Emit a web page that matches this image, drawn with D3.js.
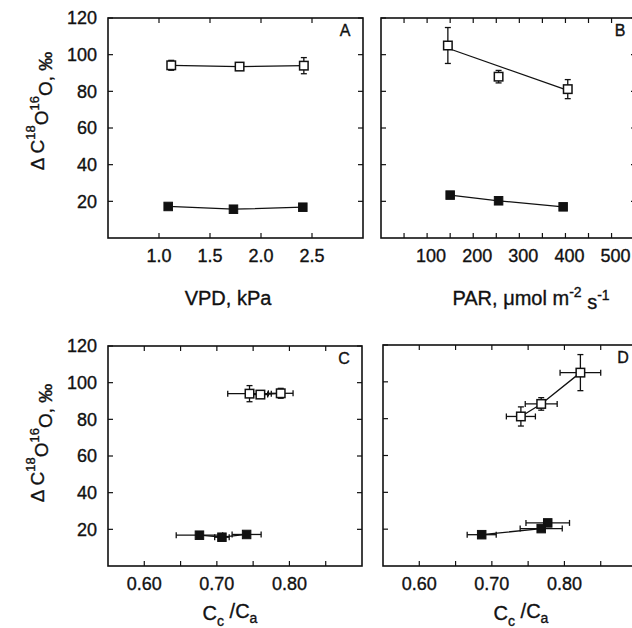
<!DOCTYPE html>
<html><head><meta charset="utf-8">
<script src="https://cdn.jsdelivr.net/npm/d3@7"></script>
<style>
body{margin:0;background:#fff;}
svg text{font-family:"Liberation Sans",Arial,sans-serif;fill:#111;stroke:#111;stroke-width:0.35px;}
</style></head>
<body><svg id="c" width="632" height="628"></svg>
<script>
// ---------- data ----------
const yTicks = [20, 40, 60, 80, 100, 120];

// Panel A : VPD, kPa
const vpdTicks = [1.0, 1.5, 2.0, 2.5];
const vpdOpenX = [1.12, 1.79, 2.42];
const vpdOpenY = [94.2, 93.5, 94.0];
const vpdOpenErr = [2.7, 1.5, 4.4];
const vpdFilledX = [1.09, 1.73, 2.41];
const vpdFilledY = [17.2, 15.7, 16.8];
const vpdFilledErr = [1.2, 1.0, 1.2];

// Panel B : PAR
const parTicks = [50, 100, 150, 200, 250, 300, 350, 400, 450, 500];
const parTickLabels = [100, 200, 300, 400, 500];
const parOpenX = [145, 255, 405];
const parOpenY = [105.0, 88.0, 81.2];
const parOpenErr = [9.8, 3.4, 5.2];
const parOpenFitX = [145, 405];
const parOpenFitY = [103.5, 80.5];
const parFilledX = [150, 255, 395];
const parFilledY = [23.4, 20.3, 17.0];
const parFilledErr = [1.0, 1.0, 1.0];

// Panel C : Cc/Ca (VPD series)
const ccTicks = [0.60, 0.65, 0.70, 0.75, 0.80, 0.85];
const ccTickLabels = [0.60, 0.70, 0.80];
const cVpdOpenX = [0.788, 0.760, 0.745];
const cVpdOpenXErr = [0.017, 0.010, 0.030];
const cVpdFilledX = [0.741, 0.707, 0.676];
const cVpdFilledXErr = [0.020, 0.010, 0.032];

// Panel D : Cc/Ca (PAR series)
const cParOpenX = [0.822, 0.768, 0.740];
const cParOpenXErr = [0.028, 0.022, 0.020];
const cParFilledX = [0.777, 0.768, 0.686];
const cParFilledXErr = [0.030, 0.029, 0.020];

// ---------- drawing ----------
const svg = d3.select("#c");

function zip(xs, ys, yerr, xerr){
  return xs.map((x,i)=>({x, y: ys[i], ye: yerr? yerr[i]:0, xe: xerr? xerr[i]:0}));
}

function panel(cfg){
  const g = svg.append("g");
  const x = d3.scaleLinear().domain(cfg.xDomain).range([cfg.left, cfg.left + cfg.w]);
  const y = d3.scaleLinear().domain([0,120]).range([cfg.top + cfg.h, cfg.top]);
  const tl = 5;
  const tk = g.append("g").attr("stroke","#111").attr("stroke-width",1.2);
  cfg.xTicks.forEach(t=>{
    tk.append("line").attr("x1",x(t)).attr("x2",x(t)).attr("y1",cfg.top+cfg.h).attr("y2",cfg.top+cfg.h-tl);
    tk.append("line").attr("x1",x(t)).attr("x2",x(t)).attr("y1",cfg.top).attr("y2",cfg.top+tl);
  });
  yTicks.forEach(t=>{
    tk.append("line").attr("x1",cfg.left).attr("x2",cfg.left+tl).attr("y1",y(t)).attr("y2",y(t));
    tk.append("line").attr("x1",cfg.left+cfg.w).attr("x2",cfg.left+cfg.w-tl).attr("y1",y(t)).attr("y2",y(t));
  });
  g.append("rect").attr("x",cfg.left).attr("y",cfg.top).attr("width",cfg.w).attr("height",cfg.h)
    .attr("fill","none").attr("stroke","#111").attr("stroke-width",1.6);
  cfg.xLabels.forEach(t=>{
    g.append("text").attr("x",x(t)+cfg.lblShift).attr("y",cfg.top+cfg.h+24).attr("text-anchor","middle")
      .attr("font-size",18).text(cfg.fmt(t));
  });
  if(cfg.yLabels){
    yTicks.forEach(t=>{
      g.append("text").attr("x",cfg.left-11).attr("y",y(t)).attr("dy","0.36em").attr("text-anchor","end")
        .attr("font-size",18).text(t);
    });
  }
  g.append("text").attr("x",cfg.letterX).attr("y",cfg.top+18).attr("text-anchor","middle")
    .attr("font-size",16).text(cfg.letter);

  const line = d3.line().x(d=>x(d.x)).y(d=>y(d.y));
  const data = g.append("g");
  cfg.series.forEach(s=>{
    const lp = s.fit ? s.fit : s.pts.slice().sort((a,b)=>a.x-b.x);
    data.append("path").attr("d",line(lp)).attr("fill","none").attr("stroke","#111").attr("stroke-width",1.3);
  });
  cfg.series.forEach(s=>{
    s.pts.forEach(d=>{
      const eb = data.append("g").attr("stroke","#111").attr("stroke-width",1.3);
      const cx = x(d.x), cy = y(d.y), c = 3;
      if(d.ye>0){
        const y1 = y(d.y+d.ye), y2 = y(d.y-d.ye);
        eb.append("line").attr("x1",cx).attr("x2",cx).attr("y1",y1).attr("y2",y2);
        eb.append("line").attr("x1",cx-c).attr("x2",cx+c).attr("y1",y1).attr("y2",y1);
        eb.append("line").attr("x1",cx-c).attr("x2",cx+c).attr("y1",y2).attr("y2",y2);
      }
      if(d.xe>0){
        const x1 = x(d.x-d.xe), x2 = x(d.x+d.xe);
        eb.append("line").attr("x1",x1).attr("x2",x2).attr("y1",cy).attr("y2",cy);
        eb.append("line").attr("x1",x1).attr("x2",x1).attr("y1",cy-c).attr("y2",cy+c);
        eb.append("line").attr("x1",x2).attr("x2",x2).attr("y1",cy-c).attr("y2",cy+c);
      }
    });
  });
  cfg.series.forEach(s=>{
    const sz = 8.5;
    data.selectAll(null).data(s.pts).enter().append("rect")
      .attr("x",d=>x(d.x)-sz/2).attr("y",d=>y(d.y)-sz/2).attr("width",sz).attr("height",sz)
      .attr("fill", s.open ? "#fff" : "#111").attr("stroke","#111").attr("stroke-width", s.open?1.5:1);
  });
}

const f1 = d3.format(".1f"), f2 = d3.format(".2f"), f0 = d3.format("d");

panel({left:108, top:18, w:255, h:220, xDomain:[0.5,3.0], xTicks:vpdTicks, xLabels:vpdTicks, fmt:f1, lblShift:0,
  yLabels:true, letter:"A", letterX:345,
  series:[
    {open:true, pts: zip(vpdOpenX, vpdOpenY, vpdOpenErr)},
    {open:false, pts: zip(vpdFilledX, vpdFilledY, vpdFilledErr)}
  ]});

panel({left:381, top:18, w:255, h:220, xDomain:[0,553], xTicks:parTicks, xLabels:parTickLabels, fmt:f0, lblShift:4,
  yLabels:false, letter:"B", letterX:620,
  series:[
    {open:true, pts: zip(parOpenX, parOpenY, parOpenErr), fit: zip(parOpenFitX, parOpenFitY)},
    {open:false, pts: zip(parFilledX, parFilledY, parFilledErr)}
  ]});

panel({left:108, top:346, w:254, h:220, xDomain:[0.55,0.90], xTicks:ccTicks, xLabels:ccTickLabels, fmt:f2, lblShift:0,
  yLabels:true, letter:"C", letterX:344,
  series:[
    {open:true, pts: zip(cVpdOpenX, vpdOpenY, vpdOpenErr, cVpdOpenXErr)},
    {open:false, pts: zip(cVpdFilledX, vpdFilledY, vpdFilledErr, cVpdFilledXErr)}
  ]});

panel({left:383, top:345, w:254, h:221, xDomain:[0.55,0.90], xTicks:ccTicks, xLabels:ccTickLabels, fmt:f2, lblShift:0,
  yLabels:false, letter:"D", letterX:623,
  series:[
    {open:true, pts: zip(cParOpenX, parOpenY, parOpenErr, cParOpenXErr)},
    {open:false, pts: zip(cParFilledX, parFilledY, parFilledErr, cParFilledXErr)}
  ]});

// axis titles
function yTitle(cx, cy){
  const t = svg.append("text").attr("transform",`translate(${cx},${cy}) rotate(-90)`)
    .attr("text-anchor","middle").attr("font-size",19);
  t.append("tspan").text("Δ C");
  t.append("tspan").attr("font-size",13).attr("dy","-0.7em").text("18");
  t.append("tspan").attr("dy","0.7em").text("O");
  t.append("tspan").attr("font-size",13).attr("dy","-0.7em").text("16");
  t.append("tspan").attr("dy","0.7em").text("O, ‰");
}
yTitle(44, 111);
yTitle(44, 443);

svg.append("text").attr("x",228).attr("y",305).attr("text-anchor","middle").attr("font-size",20).text("VPD, kPa");
const par = svg.append("text").attr("x",531).attr("y",305).attr("text-anchor","middle").attr("font-size",20);
par.append("tspan").text("PAR, μmol m");
par.append("tspan").attr("font-size",14).attr("dy","-0.6em").text("-2");
par.append("tspan").attr("dy","0.6em").text(" s");
par.append("tspan").attr("font-size",14).attr("dy","-0.6em").text("-1");

function ccTitle(cx){
  const t = svg.append("text").attr("x",cx).attr("y",620).attr("text-anchor","middle").attr("font-size",20);
  t.append("tspan").text("C");
  t.append("tspan").attr("font-size",14).attr("dy","0.4em").text("c");
  t.append("tspan").attr("dy","-0.4em").text(" /C");
  t.append("tspan").attr("font-size",14).attr("dy","0.4em").text("a");
}
ccTitle(230);
ccTitle(521);
</script></body></html>
